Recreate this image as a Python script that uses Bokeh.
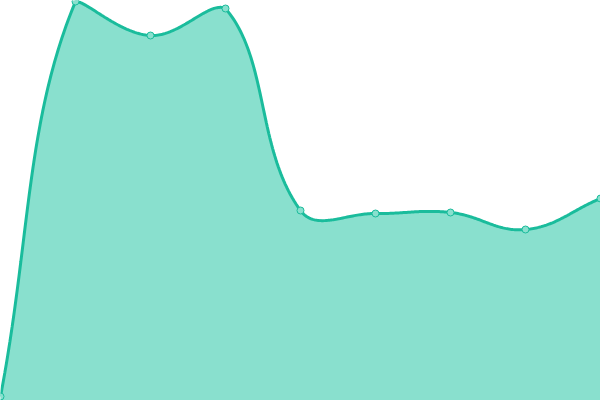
import numpy as np
from bokeh.plotting import figure
from bokeh.embed import file_html
from bokeh.resources import INLINE

# Data
x_vals = [0, 1, 2, 3, 4, 5, 6, 7, 8]
y_vals = [1.0, 99.75, 91.25, 98.0, 47.5, 46.75, 47.0, 42.75, 50.5]

W, H = 600, 400
X_MIN, X_MAX = 0, 8
Y_MIN, Y_MAX = 0, 100
TENSION = 0.4

p = figure(width=W, height=H, x_range=(X_MIN, X_MAX), y_range=(Y_MIN, Y_MAX),
           output_backend="svg", toolbar_location=None, min_border=0)
p.axis.visible = False
p.grid.visible = False
p.outline_line_color = None
p.background_fill_color = "white"
p.border_fill_color = "white"

# screen-space conversions (for spline tension like Chart.js)
def to_px(x, y):
    return (np.asarray(x) - X_MIN) / (X_MAX - X_MIN) * W, (Y_MAX - np.asarray(y)) / (Y_MAX - Y_MIN) * H

def from_px(px, py):
    return X_MIN + np.asarray(px) / W * (X_MAX - X_MIN), Y_MAX - np.asarray(py) / H * (Y_MAX - Y_MIN)

pxs, pys = to_px(x_vals, y_vals)
pts = list(zip(pxs, pys))
n = len(pts)
ctrl_prev = [None] * n
ctrl_next = [None] * n
for i in range(n):
    cur = pts[i]
    prev = pts[i - 1] if i > 0 else cur
    nxt = pts[i + 1] if i < n - 1 else cur
    d01 = np.hypot(cur[0] - prev[0], cur[1] - prev[1])
    d12 = np.hypot(nxt[0] - cur[0], nxt[1] - cur[1])
    tot = d01 + d12
    s01 = d01 / tot if tot else 0
    s12 = d12 / tot if tot else 0
    fa, fb = TENSION * s01, TENSION * s12
    cp = [cur[0] - fa * (nxt[0] - prev[0]), cur[1] - fa * (nxt[1] - prev[1])]
    cn = [cur[0] + fb * (nxt[0] - prev[0]), cur[1] + fb * (nxt[1] - prev[1])]
    for c in (cp, cn):
        c[0] = min(max(c[0], 0), W)
        c[1] = min(max(c[1], 0), H)
    ctrl_prev[i], ctrl_next[i] = cp, cn

cx, cy = [], []
t = np.linspace(0, 1, 60)
for i in range(n - 1):
    p0, p3 = pts[i], pts[i + 1]
    p1, p2 = ctrl_next[i], ctrl_prev[i + 1]
    bx = (1 - t) ** 3 * p0[0] + 3 * (1 - t) ** 2 * t * p1[0] + 3 * (1 - t) * t ** 2 * p2[0] + t ** 3 * p3[0]
    by = (1 - t) ** 3 * p0[1] + 3 * (1 - t) ** 2 * t * p1[1] + 3 * (1 - t) * t ** 2 * p2[1] + t ** 3 * p3[1]
    if i > 0:
        bx, by = bx[1:], by[1:]
    cx.extend(bx)
    cy.extend(by)

dx, dy = from_px(cx, cy)

p.varea(x=dx, y1=np.full(len(dx), Y_MIN), y2=dy, fill_color="#89e0ce", fill_alpha=1.0)
p.line(dx, dy, line_color="#1abc9c", line_width=3)
p.scatter(x_vals, y_vals, size=7, fill_color="#89e0ce", line_color="#1abc9c", line_width=1)

open("out.html", "w").write(file_html(p, INLINE))
